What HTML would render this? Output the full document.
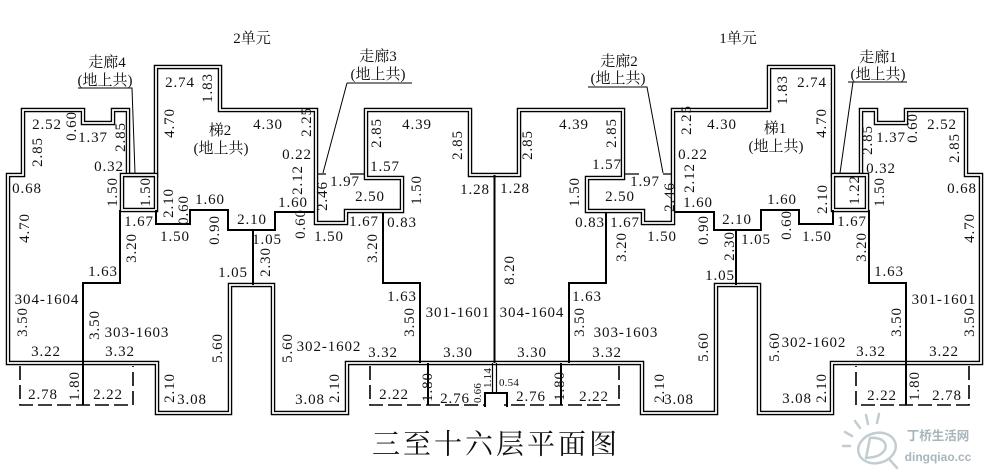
<!DOCTYPE html>
<html>
<head>
<meta charset="utf-8">
<style>
html,body{margin:0;padding:0;background:#fff;width:995px;height:473px;overflow:hidden}
svg{display:block}
.n{font-family:"Liberation Serif",serif;font-size:15px;letter-spacing:0.9px;text-anchor:middle;dominant-baseline:central;fill:#111}
.s{font-size:11px;letter-spacing:0.2px}
.c{font-family:"Liberation Serif","Noto Serif CJK SC",serif;font-size:15px;text-anchor:middle;dominant-baseline:central;fill:#111}
</style>
</head>
<body>
<svg width="995" height="473" viewBox="0 0 995 473" xmlns="http://www.w3.org/2000/svg">
<rect width="995" height="473" fill="#fff"/>
<defs>
<g id="half" fill="none" stroke-linejoin="miter" stroke-linecap="butt">
  <!-- exterior double wall (corridor 3 open at top, part of outline) -->
  <path d="M494.5,175 L470,175 L470,110 L366,110 L366,178 L402,178 L402,211 L346,211 L346,223 L316,223 L316,110 L220,110 L220,67 L156,67 L156,175 L128,175 L128,110 L113,110 L113,123 L83,123 L83,110 L23,110 L23,175 L8,175 L8,363 L157,363 L157,413 L230,413 L230,285 L273,285 L273,413 L347,413 L347,363 L494.5,363" stroke="#000" stroke-width="4.5"/>
  <path d="M494.5,175 L470,175 L470,110 L366,110 L366,178 L402,178 L402,211 L346,211 L346,223 L316,223 L316,110 L220,110 L220,67 L156,67 L156,175 L128,175 L128,110 L113,110 L113,123 L83,123 L83,110 L23,110 L23,175 L8,175 L8,363 L157,363 L157,413 L230,413 L230,285 L273,285 L273,413 L347,413 L347,363 L494.5,363" stroke="#fff" stroke-width="1.8"/>
  <!-- corridor 3 top thin stubs -->
  <path d="M318,174 L326,174 M350,174 L365,174" stroke="#000" stroke-width="1.2"/>
  <!-- corridor 4 box -->
  <path d="M122,175 L156,175 L156,210 L122,210 Z" stroke="#000" stroke-width="4.5"/>
  <path d="M122,175 L156,175 L156,210 L122,210 Z" stroke="#fff" stroke-width="1.8"/>
  <!-- single partitions -->
  <path d="M120,210 L120,283 L83,283 L83,405" stroke="#000" stroke-width="2"/>
  <path d="M156,210 L156,224 L190,224 L190,210 L228,210 L228,230 L275,230 L275,212 L314,212" stroke="#000" stroke-width="2"/>
  <path d="M383,213 L383,283 L420,283 L420,363" stroke="#000" stroke-width="2"/>
  <path d="M428,363 L428,405" stroke="#000" stroke-width="2"/>
  <path d="M253,230 L253,285" stroke="#000" stroke-width="2"/>
  <path d="M494.5,175 L494.5,363" stroke="#000" stroke-width="2"/>
  <!-- balconies dashed -->
  <path d="M20,366 L20,405 L133,405 L133,366" stroke="#000" stroke-width="1.6" stroke-dasharray="14,5"/>
  <path d="M370,366 L370,405 L485,405" stroke="#000" stroke-width="1.6" stroke-dasharray="14,5"/>
</g>
</defs>
<use href="#half"/>
<use href="#half" transform="matrix(-1 0 0 1 989 0)"/>

<!-- center bump -->
<path d="M485,407 L485,393 L507,393 L507,407" fill="none" stroke="#000" stroke-width="2"/>
<path d="M492.5,363 L492.5,393 M496.5,363 L496.5,393" fill="none" stroke="#000" stroke-width="1.2"/>

<!-- leaders -->
<g fill="none" stroke="#000" stroke-width="1">
<path d="M78,88 H132 L135,173"/>
<path d="M347,83 H412 M347,83 L323,173"/>
<path d="M588,87 H647 L663,173"/>
<path d="M848,82 H907 M853,82 L840,173"/>
</g>

<!-- CJK labels -->
<text class="c" x="252" y="39">2单元</text>
<text class="c" x="738" y="39">1单元</text>
<text class="c" x="107" y="63">走廊4</text>
<text class="c" x="105" y="81">(地上共)</text>
<text class="c" x="378" y="57">走廊3</text>
<text class="c" x="378" y="75">(地上共)</text>
<text class="c" x="619" y="62">走廊2</text>
<text class="c" x="618" y="79">(地上共)</text>
<text class="c" x="878" y="58">走廊1</text>
<text class="c" x="878" y="75">(地上共)</text>
<text class="c" x="220" y="131">梯2</text>
<text class="c" x="221" y="149">(地上共)</text>
<text class="c" x="775" y="129">梯1</text>
<text class="c" x="776" y="147">(地上共)</text>

<!-- numbers: left half -->
<text class="n" x="180" y="83">2.74</text>
<text class="n" transform="translate(208,88) rotate(-90)">1.83</text>
<text class="n" transform="translate(170,123) rotate(-90)">4.70</text>
<text class="n" x="268" y="125">4.30</text>
<text class="n" transform="translate(307,122) rotate(-90)">2.25</text>
<text class="n" x="297" y="155">0.22</text>
<text class="n" transform="translate(298,180) rotate(-90)">2.12</text>
<text class="n" x="210" y="200">1.60</text>
<text class="n" x="293" y="203">1.60</text>
<text class="n" transform="translate(169,203) rotate(-90)">2.10</text>
<text class="n" transform="translate(184,210) rotate(-90)">0.60</text>
<text class="n" x="139" y="222">1.67</text>
<text class="n" x="175" y="237">1.50</text>
<text class="n" transform="translate(215,230) rotate(-90)">0.90</text>
<text class="n" x="252" y="220">2.10</text>
<text class="n" x="267" y="240">1.05</text>
<text class="n" x="233" y="273">1.05</text>
<text class="n" transform="translate(266,262) rotate(-90)">2.30</text>
<text class="n" transform="translate(301,224) rotate(-90)">0.60</text>
<text class="n" x="329" y="237">1.50</text>
<text class="n" x="345" y="182">1.97</text>
<text class="n" transform="translate(323,196) rotate(-90)">2.46</text>
<text class="n" x="370" y="197">2.50</text>
<text class="n" transform="translate(377,133) rotate(-90)">2.85</text>
<text class="n" x="417" y="125">4.39</text>
<text class="n" transform="translate(458,145) rotate(-90)">2.85</text>
<text class="n" x="385" y="167">1.57</text>
<text class="n" transform="translate(417,190) rotate(-90)">1.50</text>
<text class="n" x="475" y="190">1.28</text>
<text class="n" x="364" y="222">1.67</text>
<text class="n" x="402" y="223">0.83</text>
<text class="n" transform="translate(373,248) rotate(-90)">3.20</text>
<text class="n" transform="translate(132,248) rotate(-90)">3.20</text>
<text class="n" x="103" y="272">1.63</text>
<text class="n" x="402" y="297">1.63</text>
<text class="n" x="27" y="189">0.68</text>
<text class="n" x="47" y="125">2.52</text>
<text class="n" transform="translate(72,126) rotate(-90)">0.60</text>
<text class="n" x="93" y="138">1.37</text>
<text class="n" transform="translate(121,137) rotate(-90)">2.85</text>
<text class="n" transform="translate(38,152) rotate(-90)">2.85</text>
<text class="n" x="109" y="167">0.32</text>
<text class="n" transform="translate(113,192) rotate(-90)">1.50</text>
<text class="n" transform="translate(146,192) rotate(-90)">1.50</text>
<text class="n" transform="translate(25,228) rotate(-90)">4.70</text>
<text class="n" x="47" y="300">304-1604</text>
<text class="n" transform="translate(23,322) rotate(-90)">3.50</text>
<text class="n" x="46" y="352">3.22</text>
<text class="n" transform="translate(95,325) rotate(-90)">3.50</text>
<text class="n" x="137" y="333">303-1603</text>
<text class="n" x="120" y="352">3.32</text>
<text class="n" transform="translate(218,348) rotate(-90)">5.60</text>
<text class="n" x="43" y="395">2.78</text>
<text class="n" transform="translate(75,386) rotate(-90)">1.80</text>
<text class="n" x="108" y="395">2.22</text>
<text class="n" transform="translate(170,388) rotate(-90)">2.10</text>
<text class="n" x="192" y="400">3.08</text>
<text class="n" transform="translate(288,348) rotate(-90)">5.60</text>
<text class="n" x="329" y="347">302-1602</text>
<text class="n" x="383" y="353">3.32</text>
<text class="n" transform="translate(410,322) rotate(-90)">3.50</text>
<text class="n" x="458" y="313">301-1601</text>
<text class="n" x="458" y="353">3.30</text>
<text class="n" transform="translate(335,388) rotate(-90)">2.10</text>
<text class="n" x="310" y="400">3.08</text>
<text class="n" x="394" y="395">2.22</text>
<text class="n" transform="translate(428,387) rotate(-90)">1.80</text>
<text class="n" x="455" y="399">2.76</text>
<text class="n s" transform="translate(478,393) rotate(-90)">0.66</text>
<text class="n s" transform="translate(488,378) rotate(-90)">1.14</text>
<text class="n s" x="509" y="383">0.54</text>

<!-- numbers: right half -->
<text class="n" x="531" y="397">2.76</text>
<text class="n" transform="translate(560,386) rotate(-90)">1.80</text>
<text class="n" x="532" y="313">304-1604</text>
<text class="n" x="532" y="353">3.30</text>
<text class="n" transform="translate(510,270) rotate(-90)">8.20</text>
<text class="n" x="515" y="189">1.28</text>
<text class="n" transform="translate(575,192) rotate(-90)">1.50</text>
<text class="n" transform="translate(528,145) rotate(-90)">2.85</text>
<text class="n" x="574" y="125">4.39</text>
<text class="n" transform="translate(612,133) rotate(-90)">2.85</text>
<text class="n" x="607" y="165">1.57</text>
<text class="n" x="645" y="182">1.97</text>
<text class="n" x="620" y="197">2.50</text>
<text class="n" transform="translate(670,197) rotate(-90)">2.46</text>
<text class="n" x="590" y="223">0.83</text>
<text class="n" x="625" y="223">1.67</text>
<text class="n" x="662" y="237">1.50</text>
<text class="n" transform="translate(704,230) rotate(-90)">0.90</text>
<text class="n" transform="translate(687,120) rotate(-90)">2.25</text>
<text class="n" x="722" y="125">4.30</text>
<text class="n" x="693" y="155">0.22</text>
<text class="n" transform="translate(690,178) rotate(-90)">2.12</text>
<text class="n" x="698" y="203">1.60</text>
<text class="n" x="737" y="220">2.10</text>
<text class="n" transform="translate(730,246) rotate(-90)">2.30</text>
<text class="n" x="720" y="276">1.05</text>
<text class="n" x="756" y="240">1.05</text>
<text class="n" transform="translate(783,90) rotate(-90)">1.83</text>
<text class="n" x="812" y="83">2.74</text>
<text class="n" transform="translate(822,123) rotate(-90)">4.70</text>
<text class="n" x="782" y="200">1.60</text>
<text class="n" transform="translate(823,199) rotate(-90)">2.10</text>
<text class="n" transform="translate(787,225) rotate(-90)">0.60</text>
<text class="n" x="817" y="237">1.50</text>
<text class="n" x="852" y="222">1.67</text>
<text class="n" transform="translate(855,190) rotate(-90)">1.22</text>
<text class="n" transform="translate(880,192) rotate(-90)">1.50</text>
<text class="n" transform="translate(868,140) rotate(-90)">2.85</text>
<text class="n" x="891" y="138">1.37</text>
<text class="n" transform="translate(913,128) rotate(-90)">0.60</text>
<text class="n" x="942" y="125">2.52</text>
<text class="n" x="881" y="169">0.32</text>
<text class="n" transform="translate(955,148) rotate(-90)">2.85</text>
<text class="n" x="962" y="189">0.68</text>
<text class="n" transform="translate(970,228) rotate(-90)">4.70</text>
<text class="n" transform="translate(862,247) rotate(-90)">3.20</text>
<text class="n" x="889" y="272">1.63</text>
<text class="n" x="944" y="300">301-1601</text>
<text class="n" transform="translate(970,322) rotate(-90)">3.50</text>
<text class="n" transform="translate(897,322) rotate(-90)">3.50</text>
<text class="n" x="944" y="352">3.22</text>
<text class="n" x="871" y="352">3.32</text>
<text class="n" x="814" y="343">302-1602</text>
<text class="n" transform="translate(775,347) rotate(-90)">5.60</text>
<text class="n" transform="translate(822,388) rotate(-90)">2.10</text>
<text class="n" x="797" y="399">3.08</text>
<text class="n" x="882" y="396">2.22</text>
<text class="n" transform="translate(915,386) rotate(-90)">1.80</text>
<text class="n" x="947" y="396">2.78</text>
<text class="n" x="587" y="297">1.63</text>
<text class="n" transform="translate(580,322) rotate(-90)">3.50</text>
<text class="n" x="626" y="333">303-1603</text>
<text class="n" x="607" y="353">3.32</text>
<text class="n" transform="translate(704,347) rotate(-90)">5.60</text>
<text class="n" transform="translate(660,388) rotate(-90)">2.10</text>
<text class="n" x="679" y="400">3.08</text>
<text class="n" transform="translate(622,247) rotate(-90)">3.20</text>
<text class="n" x="594" y="397">2.22</text>

<!-- title -->
<text x="496" y="445" font-family="'Liberation Serif','Noto Serif CJK SC',serif" font-size="28" letter-spacing="3" text-anchor="middle" dominant-baseline="central" fill="#111">三至十六层平面图</text>

<!-- watermark -->
<g fill="none" stroke="#c3cdd1" stroke-width="2.5" stroke-linecap="round">
  <ellipse cx="877" cy="448" rx="19" ry="15" transform="rotate(-15 877 448)"/>
  <path d="M870,438 L866,458 M870,438 C888,436 892,452 874,457 L866,458"/>
  <path d="M860,428 L855,421 M868,424 L866,415 M877,423 L879,414 M852,436 L845,432 M850,446 L843,446"/>
  <path d="M890,460 L897,468"/>
</g>
<text x="938" y="436" font-family="'Liberation Sans','Noto Sans CJK SC',sans-serif" font-size="12.5" font-weight="bold" text-anchor="middle" dominant-baseline="central" fill="#a8b6bc">丁桥生活网</text>
<text x="938" y="457" font-family="'Liberation Sans',sans-serif" font-size="12" font-weight="bold" text-anchor="middle" dominant-baseline="central" fill="#a8b6bc">dingqiao.cc</text>
</svg>
</body>
</html>
